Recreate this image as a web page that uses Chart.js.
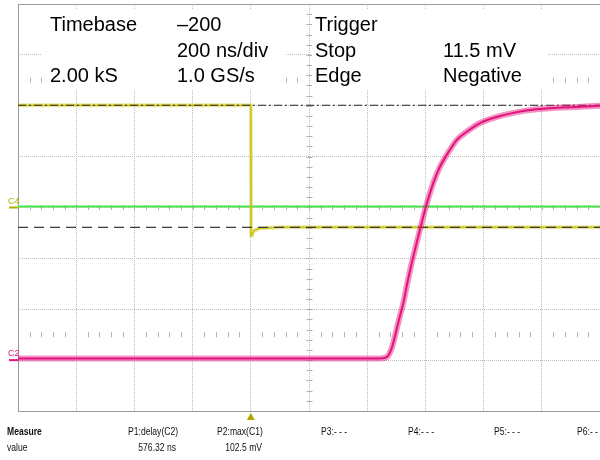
<!DOCTYPE html>
<html>
<head>
<meta charset="utf-8">
<script src="https://cdn.jsdelivr.net/npm/chart.js@4.4.1/dist/chart.umd.min.js"></script>
<style>
  html, body { margin: 0; padding: 0; background: #fff; }
  #wrap { width: 600px; height: 460px; }
</style>
</head>
<body>
<div id="wrap"><canvas id="scope" width="600" height="460"></canvas></div>
<script>
/* ---------------- DATA (time in ns, trigger = 0; level in screen divisions) ---------------- */
const timeRange = [-800, 1200];
const timeStep = 200;
const levelRange = [-4, 4];

// C2 (magenta) - delayed rising edge
const c2Time  = [-800, 440, 467, 482, 495, 509, 524, 538, 553, 568, 581, 602, 627, 650, 673, 708, 742, 788, 845, 902, 982, 1051, 1200];
const c2Level = [-2.97, -2.97, -2.94, -2.80, -2.54, -2.21, -1.88, -1.48, -1.09, -0.74, -0.44, 0.02, 0.48, 0.80, 1.03, 1.33, 1.49, 1.66, 1.78, 1.86, 1.93, 1.96, 2.00];

// C1 (yellow) - falling edge at the trigger
const c1Time  = [-800, 0, 1, 4, 10, 30, 100, 1200];
const c1Level = [2.01, 2.01, -0.55, -0.54, -0.46, -0.41, -0.39, -0.39];

// C4 (green) - flat
const c4Time  = [-800, 1200];
const c4Level = [0.02, 0.02];

// reference cursors
const cursorHigh = 2.01;
const cursorLow = -0.39;

// channel ground markers
const c4Marker = 0;
const c2Marker = -3;

// header block
const infoRows = [
    ["Timebase", "\u2013200", "Trigger", ""],
    ["", "200 ns/div", "Stop", "11.5 mV"],
    ["2.00 kS", "1.0 GS/s", "Edge", "Negative"]
];

// measure table
const measureNames  = ["P1:delay(C2)", "P2:max(C1)", "P3:- - -", "P4:- - -", "P5:- - -", "P6:- - -"];
const measureValues = ["576.32 ns", "102.5 mV", "", "", "", ""];

/* ---------------- helpers ---------------- */
function pts(xs, ys) {
    return xs.map((t, i) => ({ x: t, y: ys[i] }));
}

const PINK = "#e3127c";
const YELLOW = "#c9c214";
const GREEN = "#48e448";

/* ---------------- decoration plugin ---------------- */
const scopeDecor = {
    id: "scopeDecor",
    beforeDatasetsDraw(chart) {
        const ctx = chart.ctx;
        const a = chart.chartArea;
        const xs = chart.scales.x, ys = chart.scales.y;
        ctx.save();

        // small ticks along the centre lines and the +/-2.5 div rows
        ctx.strokeStyle = "#b0b0b0";
        ctx.lineWidth = 1;
        const cx = Math.round(xs.getPixelForValue(200)) + 0.5;
        for (let v = levelRange[0]; v <= levelRange[1] + 1e-6; v += 0.2) {
            const py = Math.round(ys.getPixelForValue(v)) + 0.5;
            ctx.beginPath(); ctx.moveTo(cx - 3, py); ctx.lineTo(cx + 3, py); ctx.stroke();
        }
        [0, 2.5, -2.5].forEach(row => {
            const py = ys.getPixelForValue(row);
            for (let t = timeRange[0]; t <= timeRange[1] + 1e-6; t += 40) {
                if (row !== 0 && Math.abs(((t - timeRange[0]) % timeStep)) < 1) continue;
                const px = Math.round(xs.getPixelForValue(t)) + 0.5;
                ctx.beginPath(); ctx.moveTo(px, py - 2.5); ctx.lineTo(px, py + 2.5); ctx.stroke();
            }
        });

        // frame: left, top, bottom
        ctx.strokeStyle = "#9a9a9a";
        ctx.beginPath();
        ctx.moveTo(a.right, a.top + 0.5);
        ctx.lineTo(a.left + 0.5, a.top + 0.5);
        ctx.lineTo(a.left + 0.5, a.bottom + 0.5);
        ctx.lineTo(a.right, a.bottom + 0.5);
        ctx.stroke();
        ctx.restore();
    },
    afterDatasetsDraw(chart) {
        const ctx = chart.ctx;
        const xs = chart.scales.x, ys = chart.scales.y;
        ctx.save();

        // header block with white backing
        ctx.fillStyle = "#fff";
        ctx.fillRect(42, 9, 243, 81);
        ctx.fillRect(312, 9, 236, 81);
        const colX = [50, 177, 315, 443];
        const rowY = [31, 57, 82];
        ctx.fillStyle = "#000";
        ctx.font = "20px 'Liberation Sans', Arial, sans-serif";
        ctx.textBaseline = "alphabetic";
        infoRows.forEach((row, r) => {
            row.forEach((txt, c) => { if (txt) ctx.fillText(txt, colX[c], rowY[r]); });
        });

        // channel markers
        ctx.font = "9px 'Liberation Sans', Arial, sans-serif";
        const y4 = ys.getPixelForValue(c4Marker);
        ctx.fillStyle = "#b5ae00";
        ctx.fillText("C4", 8, y4 - 4);
        ctx.fillRect(9, y4 - 1, 9, 2);
        const y2 = ys.getPixelForValue(c2Marker);
        ctx.fillStyle = PINK;
        ctx.fillText("C2", 8, y2 - 4);
        ctx.fillRect(9, y2 - 1, 9, 2);

        // trigger position marker
        const tx = xs.getPixelForValue(0);
        ctx.fillStyle = "#b3a400";
        ctx.beginPath();
        ctx.moveTo(tx, 413); ctx.lineTo(tx + 4, 420); ctx.lineTo(tx - 4, 420);
        ctx.closePath(); ctx.fill();

        // measure table (condensed text)
        const narrow = (txt, x, y, bold, alignRight) => {
            ctx.save();
            ctx.font = (bold ? "bold " : "") + "11px 'Liberation Sans', Arial, sans-serif";
            const w = ctx.measureText(txt).width * 0.78;
            ctx.translate(alignRight ? x - w : x, y);
            ctx.scale(0.78, 1);
            ctx.fillText(txt, 0, 0);
            ctx.restore();
        };
        ctx.fillStyle = "#111";
        narrow("Measure", 7, 435, true, false);
        narrow("value", 7, 451, false, false);
        const nameX = [128, 217, 321, 408, 494, 577];
        const valueRight = [176, 262, 0, 0, 0, 0];
        measureNames.forEach((n, i) => narrow(n, nameX[i], 435, false, false));
        measureValues.forEach((v, i) => { if (v) narrow(v, valueRight[i], 451, false, true); });

        ctx.restore();
    }
};

/* ---------------- CHART ---------------- */
new Chart(document.getElementById("scope"), {
    type: "line",
    data: {
        datasets: [
            { data: pts(c2Time, c2Level), borderColor: PINK, borderWidth: 2, tension: 0.35, cubicInterpolationMode: "monotone", order: 0 },
            { data: pts(c2Time, c2Level), borderColor: "rgba(227,18,124,0.45)", borderWidth: 6, tension: 0.35, cubicInterpolationMode: "monotone", order: 1 },
            { data: pts(timeRange, [cursorHigh, cursorHigh]), borderColor: "#222", borderWidth: 1.2, borderDash: [8, 3, 2, 3], order: 2 },
            { data: pts(timeRange, [cursorLow, cursorLow]), borderColor: "#3a3a3a", borderWidth: 1.4, borderDash: [10, 6], order: 3 },
            { data: pts(c1Time, c1Level), borderColor: YELLOW, borderWidth: 1.5, tension: 0, order: 4 },
            { data: pts(c1Time, c1Level), borderColor: "rgba(201,194,20,0.4)", borderWidth: 4, tension: 0, order: 5 },
            { data: pts(c4Time, c4Level), borderColor: GREEN, borderWidth: 2.2, tension: 0, order: 6 }
        ]
    },
    options: {
        responsive: false,
        animation: false,
        devicePixelRatio: 1,
        layout: { padding: { left: 18, top: 4, right: 0, bottom: 49 } },
        elements: { point: { radius: 0 } },
        plugins: { legend: { display: false }, tooltip: { enabled: false } },
        scales: {
            x: {
                type: "linear",
                min: timeRange[0], max: timeRange[1],
                ticks: { display: false, stepSize: timeStep },
                grid: { color: "#bdbdbd", lineWidth: 1, drawTicks: false },
                border: { display: false, dash: [1, 1] }
            },
            y: {
                type: "linear",
                min: levelRange[0], max: levelRange[1],
                ticks: { display: false, stepSize: 1 },
                grid: { color: "#bdbdbd", lineWidth: 1, drawTicks: false },
                border: { display: false, dash: [1, 1] }
            }
        }
    },
    plugins: [scopeDecor]
});
</script>
</body>
</html>
